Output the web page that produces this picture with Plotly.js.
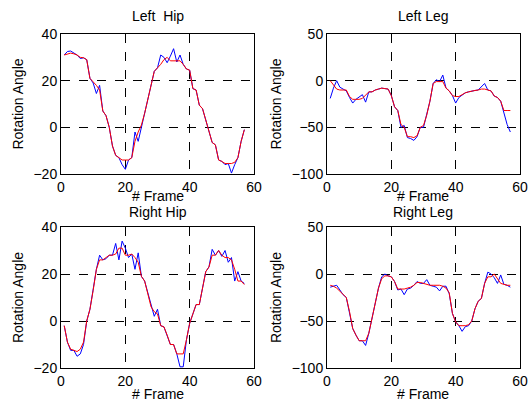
<!DOCTYPE html>
<html>
<head>
<meta charset="utf-8">
<script src="https://cdn.plot.ly/plotly-3.0.1.min.js"></script>
<style>html,body{margin:0;padding:0;background:#fff}#chart{width:528px;height:406px}</style>
</head>
<body>
<div id="chart"></div>
<script>
const frames = Array.from({length: 57}, (_, i) => i + 1);

const leftHipRaw = [31, 32.5, 32.7, 31.8, 31, 29.5, 29.8, 29, 21, 19, 14.5, 18, 7, 5, 0, -8, -12, -13, -16, -18,
  -14, -13, -2, -6, 0, 6, 12, 19, 24, 25.5, 31, 30, 27.7, 30.5, 33.7, 28, 31, 27, 25, 24.5,
  16.6, 16, 9.5, 8, 3, -1, -6.5, -7.5, -14, -14.6, -16, -15.5, -19.6, -16, -13, -6, -1];
const leftHipSmooth = [31, 31.5, 31.8, 31.5, 31, 30, 29.8, 29, 21, 19.5, 18, 16, 7, 5, 0, -8, -12, -13, -14, -14,
  -14, -13, -6, -2, 1, 6, 12, 19, 24, 25.5, 27, 29, 30, 28.5, 28.5, 28.5, 28.5, 27, 25, 24.5,
  16.6, 16, 9.5, 8, 3, -1, -6.5, -7.5, -14, -14.6, -15.5, -15.5, -15.5, -15, -13, -6, -1];

const leftLegRaw = [-19, -8, 0, -7, -9, -11, -18, -24, -20, -17, -15, -23, -12, -12, -10, -9, -8, -8.5, -9, -16,
  -28, -32, -50, -48, -61, -62, -64, -60, -50, -50, -37, -22, -3, 1, -1, 6, -8, -11, -16, -24,
  -18, -15, -13, -12, -11, -10.5, -10, -7, -3, -10, -11, -16.5, -18, -22, -34, -47, -55];
const leftLegSmooth = [0, -5, -9, -10, -10, -10, -17, -20, -20, -20, -19, -15, -12, -12, -10, -9, -8, -8.5, -9, -16,
  -28, -32, -47, -50, -60, -60, -61, -59, -50, -48, -37, -22, -3, -1, -1, -1, -8, -11, -16, -17,
  -17, -15, -13, -12, -11, -10.5, -10, -9, -9, -10, -11, -16.5, -18, -22, -32, -32, -32];

const rightHipRaw = [-2, -9, -12.5, -12.5, -15, -14, -10, 0, 5, 13, 22, 28, 26, 26.5, 28, 28, 33, 26, 34, 31,
  27, 28.5, 22, 29, 19, 17, 12, 6, 2, 5, -2, -2.5, -6, -10, -10, -14, -19.5, -19.5, -8, -1,
  3, 7, 7, 14, 21, 23, 30.5, 28, 30, 27.5, 30, 25, 27, 17, 21, 17, 16];
const rightHipSmooth = [-2, -9, -12, -12.5, -13, -12, -9, 0, 5, 13, 22, 26, 26, 27, 28, 28, 28.5, 31, 31, 28,
  28, 28.5, 27, 25, 19, 17, 12, 6, 4, 3, -2, -2.5, -6, -10, -10, -14, -14, -14, -8, -1,
  3, 7, 7, 14, 21, 23, 28, 28, 30, 28, 27, 27, 26, 22, 17, 17, 15.5];

const rightLegRaw = [-14, -13, -12, -17, -22, -25, -40, -58, -65, -71, -71, -76, -63, -46, -31, -15, -3, 0, -2, -3,
  -8, -17, -16, -22, -16, -15, -12, -8, -10, -10, -6, -12, -13, -14, -18, -13, -13, -21, -42, -51,
  -55, -61, -56, -55, -50, -37, -29, -26, -10, 2, 0, -4, -10, -1, -11, -12, -14];
const rightLegSmooth = [-12, -13, -15, -18, -22, -25, -40, -58, -65, -71, -71, -71, -63, -46, -31, -15, -5, -2, -2, -3,
  -8, -16, -16, -16, -15, -14, -12, -9, -9, -10, -11, -12, -12, -12, -12, -13, -15, -20, -42, -51,
  -55, -55, -55, -54, -50, -37, -29, -26, -10, -3, -3, 0, -5, -10, -11, -12, -12];

const panelTitles = ['Left  Hip', 'Left Leg', 'Right Hip', 'Right Leg'];
const xTitle = '# Frame';
const yTitle = 'Rotation Angle';
const xTicks = [0, 20, 40, 60];
const hipTicks = [-20, 0, 20, 40];
const legTicks = [-100, -50, 0, 50];

const panels = [
  {raw: leftHipRaw, smooth: leftHipSmooth, xa: 'x', ya: 'y'},
  {raw: leftLegRaw, smooth: leftLegSmooth, xa: 'x2', ya: 'y2'},
  {raw: rightHipRaw, smooth: rightHipSmooth, xa: 'x3', ya: 'y3'},
  {raw: rightLegRaw, smooth: rightLegSmooth, xa: 'x4', ya: 'y4'}
];

const traces = [];
panels.forEach(p => {
  traces.push({x: frames, y: p.raw, xaxis: p.xa, yaxis: p.ya, mode: 'lines', line: {color: '#0000ff', width: 1}, hoverinfo: 'skip'});
  traces.push({x: frames, y: p.smooth, xaxis: p.xa, yaxis: p.ya, mode: 'lines', line: {color: '#ff0000', width: 1}, hoverinfo: 'skip'});
});

const W = 528, H = 406;
const colX = [[61 / W, 254 / W], [327 / W, 520 / W]];
const rowY = [[1 - 174 / H, 1 - 34 / H], [1 - 368 / H, 1 - 227 / H]];
const FAM = 'Liberation Sans, Arial, sans-serif';
const font = {family: FAM, size: 14, color: '#000'};

function xAxis(dom, anchor) {
  return {domain: dom, anchor: anchor, range: [0, 60], tickvals: xTicks, ticks: '', showline: true, mirror: true,
    linecolor: '#000', linewidth: 1, showgrid: true, gridcolor: '#000', griddash: 'dash', gridwidth: 1,
    zeroline: false, tickfont: font, fixedrange: true};
}
function yAxis(dom, anchor, range, ticks) {
  return {domain: dom, anchor: anchor, range: range, tickvals: ticks, ticks: '', showline: true, mirror: true,
    linecolor: '#000', linewidth: 1, showgrid: true, gridcolor: '#000', griddash: 'dash', gridwidth: 1,
    zeroline: false, tickfont: font, title: {text: yTitle, font: font, standoff: 6}, fixedrange: true};
}

const annotations = [];
panelTitles.forEach((t, i) => {
  const c = colX[i % 2], r = Math.floor(i / 2);
  const cx = (c[0] + c[1]) / 2;
  annotations.push({
    text: t, showarrow: false, xref: 'paper', yref: 'paper',
    x: cx, y: 1 - (r === 0 ? 16 : 212) / H, xanchor: 'center', yanchor: 'middle',
    font: {family: FAM, size: 14, color: '#000'}
  });
  annotations.push({
    text: xTitle, showarrow: false, xref: 'paper', yref: 'paper',
    x: cx, y: 1 - (r === 0 ? 196 : 394) / H, xanchor: 'center', yanchor: 'middle',
    font: font
  });
});

const layout = {
  width: W, height: H, showlegend: false,
  margin: {l: 0, r: 0, t: 0, b: 0},
  paper_bgcolor: '#fff', plot_bgcolor: '#fff',
  font: font,
  xaxis: xAxis(colX[0], 'y'), yaxis: yAxis(rowY[0], 'x', [-20, 40], hipTicks),
  xaxis2: xAxis(colX[1], 'y2'), yaxis2: yAxis(rowY[0], 'x2', [-100, 50], legTicks),
  xaxis3: xAxis(colX[0], 'y3'), yaxis3: yAxis(rowY[1], 'x3', [-20, 40], hipTicks),
  xaxis4: xAxis(colX[1], 'y4'), yaxis4: yAxis(rowY[1], 'x4', [-100, 50], legTicks),
  annotations: annotations
};

Plotly.newPlot('chart', traces, layout, {staticPlot: true, displayModeBar: false});
</script>
</body>
</html>
